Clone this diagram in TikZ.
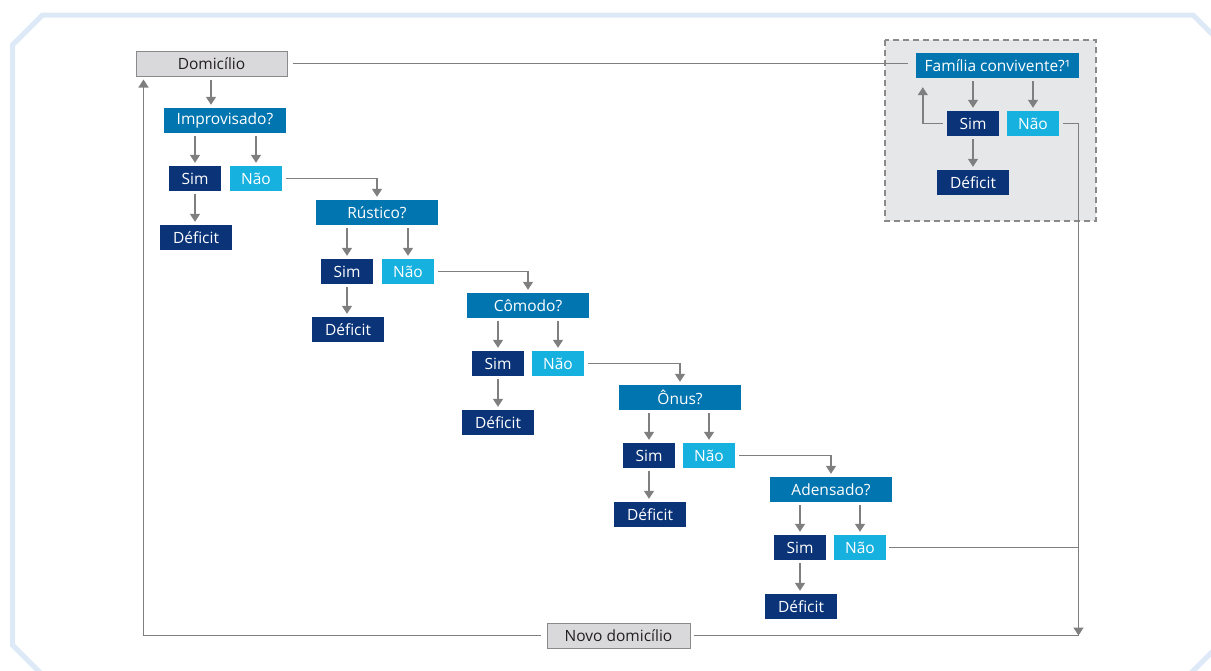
\documentclass[tikz,border=0pt]{standalone}
\usepackage{fontspec}
\setmainfont{Open Sans}
\usetikzlibrary{arrows.meta,calc}
\definecolor{qblue}{HTML}{0075B0}
\definecolor{navy}{HTML}{0B3478}
\definecolor{cyanb}{HTML}{17B1E0}
\definecolor{boxgray}{HTML}{D9D9DB}
\definecolor{bordgray}{HTML}{8A8A8A}
\definecolor{linegray}{HTML}{7F7F7F}
\definecolor{panelgray}{HTML}{E6E7E9}
\definecolor{framebl}{HTML}{DDE9F6}
\definecolor{txtdark}{HTML}{231F20}
\tikzset{
  base/.style={inner sep=0pt, minimum height=25pt, font=\fontsize{15.5}{17}\selectfont, text=white},
  qbox/.style={base, fill=qblue, minimum width=122pt},
  simbox/.style={base, fill=navy, minimum width=52pt},
  naobox/.style={base, fill=cyanb, minimum width=52pt},
  defbox/.style={base, fill=navy, minimum width=72pt},
  graybox/.style={base, fill=boxgray, draw=bordgray, line width=1pt, text=txtdark},
  conn/.style={draw=linegray, line width=1.4pt},
  arr/.style={conn, -{Triangle[length=8pt,width=10pt]}, shorten <=3pt, shorten >=3pt},
}
\begin{document}
\begin{tikzpicture}[x=1pt,y=-1pt]
\useasboundingbox (0,0) rectangle (1211,670);
\begin{scope}
\clip (0,0) rectangle (1211,670);
\draw[framebl, line width=5pt, line join=miter] (12.5,45) -- (42.5,15) -- (1193,15) -- (1225,47) -- (1225,639) -- (1189,675) -- (42.5,675) -- (12.5,645) -- cycle;
\end{scope}
% panel
\fill[panelgray] (885,40) rectangle (1096,221);
\draw[bordgray, line width=1.2pt, dash pattern=on 6pt off 4pt] (885,40) rectangle (1096,221);

\node[graybox, minimum width=151pt] (dom) at (211.5,63.5) {Domicílio};
\node[graybox, minimum width=143pt] (novo) at (618.5,635.5) {Novo domicílio};

\node[qbox] (q1) at (225,120.5) {Improvisado?};
\node[simbox] (s1) at (195,178.5) {Sim};
\node[naobox] (n1) at (256,178.5) {Não};
\node[defbox] (d1) at (196,237.5) {Déficit};

\node[qbox] (q2) at (377,212.5) {Rústico?};
\node[simbox] (s2) at (347,271.5) {Sim};
\node[naobox] (n2) at (408,271.5) {Não};
\node[defbox] (d2) at (348,329.5) {Déficit};

\node[qbox] (q3) at (528,305.5) {Cômodo?};
\node[simbox] (s3) at (498,363.5) {Sim};
\node[naobox] (n3) at (558,363.5) {Não};
\node[defbox] (d3) at (498,422.5) {Déficit};

\node[qbox] (q4) at (680,397.5) {Ônus?};
\node[simbox] (s4) at (649,455.5) {Sim};
\node[naobox] (n4) at (709,455.5) {Não};
\node[defbox] (d4) at (650,514.5) {Déficit};

\node[qbox] (q5) at (831,489.5) {Adensado?};
\node[simbox] (s5) at (800,547.5) {Sim};
\node[naobox] (n5) at (860,547.5) {Não};
\node[defbox] (d5) at (801,606.5) {Déficit};

\node[qbox, minimum width=163pt] (fam) at (997.5,65.5) {Família convivente?¹};
\node[simbox] (fs) at (973,123.5) {Sim};
\node[naobox] (fn) at (1033,123.5) {Não};
\node[defbox] (fd) at (973,182.5) {Déficit};

\coordinate (rx) at (1078.5,0);

% main chain
\draw[arr] (q1.north |- dom.south) ++(-14,0) coordinate (da) -- (da |- q1.north);
\foreach \q/\s/\n/\d in {q1/s1/n1/d1,q2/s2/n2/d2,q3/s3/n3/d3,q4/s4/n4/d4,q5/s5/n5/d5,fam/fs/fn/fd}{
  \draw[arr] (\s |- \q.south) -- (\s.north);
  \draw[arr] (\n |- \q.south) -- (\n.north);
  \draw[arr] (\s.south) -- (\s |- \d.north);
}
\foreach \n/\q in {n1/q2,n2/q3,n3/q4,n4/q5}{
  \draw[conn, -{Triangle[length=8pt,width=10pt]}, shorten <=4pt, shorten >=3pt] (\n.east) -| (\q.north);
}
% family links
\draw[conn, shorten <=5pt, shorten >=8pt] (dom.east) -- (fam.west |- dom.east);
\draw[conn, -{Triangle[length=8pt,width=10pt]}, shorten <=4pt, shorten >=9pt] (fs.west) -| ([xshift=7pt]fam.south west);
\draw[conn, -{Triangle[length=8pt,width=10pt]}, shorten <=4pt] (fn.east) -| (rx |- novo.east);
\draw[conn, shorten <=3pt] (n5.east) -- (rx |- n5.east);
\draw[conn, shorten <=3pt] (novo.east) -- (rx |- novo.east);
\draw[conn, -{Triangle[length=8pt,width=10pt]}, shorten <=6pt, shorten >=3pt] (novo.west) -| ([xshift=8pt]dom.south west);
\end{tikzpicture}
\end{document}
